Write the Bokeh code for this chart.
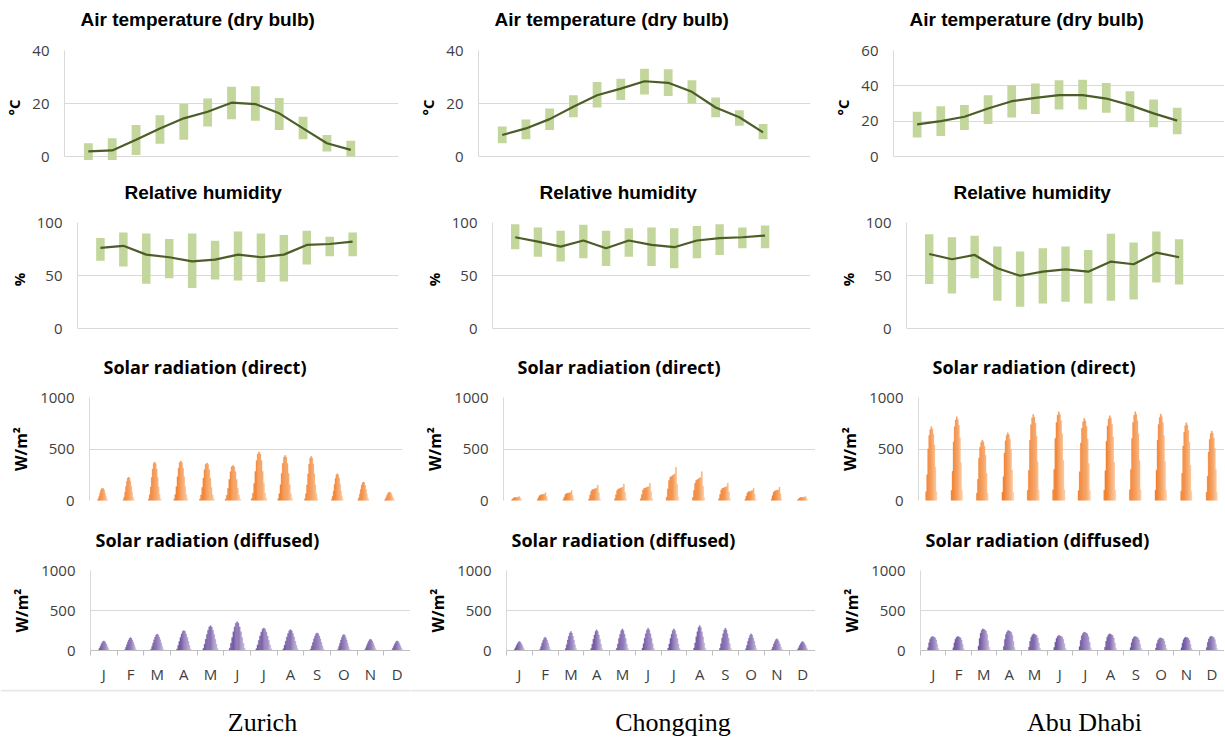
import numpy as np
from bokeh.plotting import figure
from bokeh.layouts import row, column
from bokeh.models import Range1d, FixedTicker, LinearAxis, Grid, Span, ColumnDataSource, Title
from bokeh.embed import file_html
from bokeh.resources import INLINE
from bokeh.core.properties import value

# ---------------- data ----------------
months = ["J", "F", "M", "A", "M", "J", "J", "A", "S", "O", "N", "D"]
cities = ["Zurich", "Chongqing", "Abu Dhabi"]

zurich_temp_max = [5.0, 6.9, 11.9, 15.6, 19.8, 21.9, 26.3, 26.5, 22.1, 15.0, 8.1, 5.9]
zurich_temp_min = [-1.3, -1.3, 0.6, 4.8, 6.3, 11.3, 14.1, 13.5, 10.0, 6.5, 1.9, 0.0]
zurich_temp_mean = [1.9, 2.3, 6.3, 10.6, 14.4, 16.9, 20.3, 19.8, 16.3, 10.6, 5.0, 2.5]
zurich_rh_max = [85.3, 90.6, 89.7, 84.4, 89.7, 82.8, 91.6, 89.7, 88.1, 92.2, 86.6, 90.6]
zurich_rh_min = [64.0, 58.4, 42.2, 47.5, 38.1, 46.3, 45.3, 43.8, 44.4, 60.3, 68.1, 68.1]
zurich_rh_mean = [76.0, 78.0, 69.7, 67.2, 63.4, 65.0, 69.7, 67.2, 69.7, 78.8, 79.7, 81.9]

chongqing_temp_max = [11.3, 14.0, 18.1, 23.1, 28.1, 29.3, 33.1, 32.9, 28.8, 22.3, 17.5, 12.3]
chongqing_temp_min = [5.0, 6.5, 10.0, 14.8, 18.5, 21.3, 23.4, 22.8, 20.0, 14.8, 11.6, 6.5]
chongqing_temp_mean = [8.1, 10.6, 14.1, 18.8, 23.1, 25.6, 28.4, 27.8, 24.4, 18.5, 14.8, 9.1]
chongqing_rh_max = [98.4, 95.3, 92.1, 97.8, 92.1, 94.6, 95.3, 94.6, 96.8, 98.4, 95.3, 97.2]
chongqing_rh_min = [74.8, 67.8, 63.1, 66.2, 59.0, 67.8, 59.0, 56.8, 66.2, 69.4, 75.7, 75.7]
chongqing_rh_mean = [86.1, 82.0, 77.3, 83.0, 75.7, 83.0, 78.9, 76.7, 83.0, 85.2, 86.1, 87.7]

abudhabi_temp_max = [25.3, 28.5, 29.1, 34.7, 40.3, 41.3, 43.1, 43.5, 41.6, 37.0, 32.3, 27.6]
abudhabi_temp_min = [10.7, 11.6, 15.0, 18.4, 22.1, 24.0, 26.6, 26.6, 24.8, 19.7, 16.5, 12.6]
abudhabi_temp_mean = [18.2, 20.0, 22.5, 27.2, 31.3, 33.2, 34.7, 34.7, 32.8, 29.1, 24.4, 20.3]
abudhabi_rh_max = [89.0, 86.1, 87.4, 77.3, 72.6, 75.7, 77.3, 74.1, 89.3, 81.1, 91.5, 84.2]
abudhabi_rh_min = [42.0, 33.1, 47.3, 26.2, 20.5, 23.7, 25.2, 23.7, 26.2, 27.4, 43.5, 41.6]
abudhabi_rh_mean = [70.3, 65.3, 69.4, 56.8, 49.8, 53.6, 55.8, 53.6, 63.1, 60.6, 71.6, 67.2]

# monthly peak of the average daily profile (W/m2)
zurich_direct_peak = [120, 227, 373, 383, 364, 341, 471, 438, 429, 260, 179, 81]
chongqing_direct_peak = [40, 77, 97, 150, 160, 168, 322, 280, 168, 120, 130, 40]
abudhabi_direct_peak = [716, 813, 587, 658, 835, 861, 797, 823, 861, 839, 755, 674]
zurich_diffuse_peak = [120, 160, 205, 250, 310, 360, 280, 260, 220, 200, 140, 120]
chongqing_diffuse_peak = [112, 167, 237, 258, 270, 279, 270, 312, 279, 208, 146, 112]
abudhabi_diffuse_peak = [175, 175, 270, 250, 208, 187, 229, 208, 175, 158, 167, 179]

# relative day length per month (width of the daily profile)
zurich_daylen = [0.75, 0.8, 0.9, 1.0, 1.05, 1.1, 1.1, 1.05, 0.95, 0.85, 0.8, 0.75]
chongqing_daylen = [0.9, 0.92, 0.95, 1.0, 1.02, 1.05, 1.05, 1.02, 1.0, 0.95, 0.92, 0.9]
abudhabi_daylen = [0.95, 0.97, 1.0, 1.0, 1.02, 1.05, 1.05, 1.02, 1.0, 0.98, 0.95, 0.95]

# normalised hourly shape of the daily profile (daylight hours)
zurich_direct_shape = [0.04, 0.15, 0.35, 0.6, 0.82, 0.96, 1.0, 0.96, 0.82, 0.6, 0.35, 0.15, 0.04]
chongqing_direct_shape = [0.1, 0.35, 0.6, 0.7, 0.72, 0.75, 0.78, 0.8, 1.0, 0.5, 0.1]
abudhabi_direct_shape = [0.12, 0.35, 0.7, 0.88, 0.96, 1.0, 0.97, 0.9, 0.75, 0.45, 0.12]
zurich_diffuse_shape = [0.08, 0.25, 0.45, 0.65, 0.82, 0.95, 1.0, 0.95, 0.82, 0.65, 0.45, 0.25, 0.08]
chongqing_diffuse_shape = [0.1, 0.3, 0.55, 0.75, 0.92, 1.0, 0.92, 0.75, 0.55, 0.3, 0.1]
abudhabi_diffuse_shape = [0.2, 0.55, 0.8, 0.93, 1.0, 0.98, 0.95, 0.9, 0.75, 0.45, 0.15]

temp_ticks = [[0, 20, 40], [0, 20, 40], [0, 20, 40, 60]]
rh_ticks = [0, 50, 100]
rad_ticks = [0, 500, 1000]

titles = ["Air temperature (dry bulb)", "Relative humidity",
          "Solar radiation (direct)", "Solar radiation (diffused)"]
ylabels = ["\u00b0C", "%", "W/m\u00b2", "W/m\u00b2"]

temp_data = [(zurich_temp_min, zurich_temp_max, zurich_temp_mean),
             (chongqing_temp_min, chongqing_temp_max, chongqing_temp_mean),
             (abudhabi_temp_min, abudhabi_temp_max, abudhabi_temp_mean)]
rh_data = [(zurich_rh_min, zurich_rh_max, zurich_rh_mean),
           (chongqing_rh_min, chongqing_rh_max, chongqing_rh_mean),
           (abudhabi_rh_min, abudhabi_rh_max, abudhabi_rh_mean)]
direct_data = [(zurich_direct_peak, zurich_direct_shape, zurich_daylen),
               (chongqing_direct_peak, chongqing_direct_shape, chongqing_daylen),
               (abudhabi_direct_peak, abudhabi_direct_shape, abudhabi_daylen)]
diffuse_data = [(zurich_diffuse_peak, zurich_diffuse_shape, zurich_daylen),
                (chongqing_diffuse_peak, chongqing_diffuse_shape, chongqing_daylen),
                (abudhabi_diffuse_peak, abudhabi_diffuse_shape, abudhabi_daylen)]

# ---------------- layout / style ----------------
COL_W = [410, 405, 409]
ROW_H = [175, 173, 172, 169, 50]
# (left, right, top, bottom) of the plotting frame inside each figure
FRAMES = [
    [(64, 398, 50, 164), (77, 398, 47, 161), (89, 402, 49, 152), (90, 410, 50, 130)],
    [(68, 400, 50, 164), (82, 400, 47, 161), (93, 405, 49, 152), (96, 405, 50, 130)],
    [(78, 409, 50, 164), (91, 409, 47, 161), (103, 409, 49, 152), (105, 409, 50, 130)],
]
ZERO_PAD = 8  # px below the zero line for temperature / humidity frames
TITLE_OFF = [16, 47, 14, 5]
TITLE_GAP = [8, 7, 6, 6]   # standoff of the blank spacer between title and frame
LABEL_STANDOFF = 5

GREEN = "#c3d69b"
OLIVE = "#4b5e28"
GRID = "#d9d9d9"
TICK_TXT = "#404040"
ORANGE = ("#f0802e", "#fcc79a")
PURPLE = ("#6c519e", "#c4b6de")


def mix(c1, c2, t):
    a = [int(c1[i:i + 2], 16) for i in (1, 3, 5)]
    b = [int(c2[i:i + 2], 16) for i in (1, 3, 5)]
    return "#%02x%02x%02x" % tuple(int(round(a[j] + (b[j] - a[j]) * t)) for j in range(3))


def base_fig(colw, rowh, frame, xr, yr):
    L, R, T, B = frame
    p = figure(width=colw, height=rowh, x_range=xr, y_range=yr, title=None,
               x_axis_type=None, y_axis_type=None, output_backend="svg",
               toolbar_location=None,
               min_border_left=L, min_border_right=colw - R,
               min_border_top=T, min_border_bottom=rowh - B)
    p.outline_line_color = None
    p.background_fill_color = "white"
    p.border_fill_color = "white"
    return p


def add_title(p, text, r):
    # blank spacer next to the frame, then the real title above it
    spacer = Title(text=" ", text_font_size="8px", text_color="#ffffff",
                   standoff=TITLE_GAP[r])
    p.add_layout(spacer, "above")
    t = Title(text=text, align="left", vertical_align="top", offset=TITLE_OFF[r], standoff=0)
    if r < 2:
        t.text_font = "Liberation Sans"
        t.text_font_size = "19px"
    else:
        t.text_font = "Open Sans"
        t.text_font_size = "18px"
    t.text_font_style = "bold"
    t.text_color = "#000000"
    p.add_layout(t, "above")


def add_yaxis(p, ticks, label, r):
    tk = FixedTicker(ticks=ticks)
    ax = LinearAxis(ticker=tk, bounds=(ticks[0], ticks[-1]), axis_label=label)
    ax.major_tick_out = 0
    ax.major_tick_in = 0
    ax.minor_tick_out = 0
    ax.minor_tick_in = 0
    ax.axis_line_color = GRID
    ax.major_label_text_font = "Open Sans"
    ax.major_label_text_font_size = "15px"
    ax.major_label_text_color = TICK_TXT
    ax.major_label_standoff = 15
    ax.axis_label_text_font = "Open Sans"
    ax.axis_label_text_font_size = "15px" if r < 2 else "16px"
    ax.axis_label_text_font_style = "bold"
    ax.axis_label_text_color = "#000000"
    ax.axis_label_standoff = LABEL_STANDOFF
    p.add_layout(ax, "left")
    p.add_layout(Grid(dimension=1, ticker=tk, grid_line_color=GRID, grid_line_width=1))


def range_plot(c, r, data, ticks):
    colw, rowh = COL_W[c], ROW_H[r]
    L, R, T, B = FRAMES[c][r]
    lo, hi, mean = data
    top = ticks[-1]
    units_per_px = top / (B - ZERO_PAD - T)
    yr = Range1d(-ZERO_PAD * units_per_px, top)
    xr = Range1d(0, len(months) + 2)
    p = base_fig(colw, rowh, FRAMES[c][r], xr, yr)
    add_title(p, titles[r], r)
    add_yaxis(p, ticks, ylabels[r], r)
    x = [i + 1 for i in range(len(months))]
    src = ColumnDataSource(dict(x=x, lo=lo, hi=hi, mean=mean))
    p.vbar(x="x", bottom="lo", top="hi", width=0.37, fill_color=GREEN,
           line_color=None, source=src)
    p.line(x="x", y="mean", line_color=OLIVE, line_width=2.2, source=src)
    return p


def radiation_plot(c, r, data, colors, bottom_axis):
    colw, rowh = COL_W[c], ROW_H[r]
    peaks, shape, daylen = data
    xr = Range1d(0, len(months))
    yr = Range1d(0, rad_ticks[-1])
    p = base_fig(colw, rowh, FRAMES[c][r], xr, yr)
    add_title(p, titles[r], r)
    add_yaxis(p, rad_ticks, ylabels[r], r)
    n = len(shape)
    ctr = (n - 1) / 2
    xs, tops, ws, cols = [], [], [], []
    for i, pk in enumerate(peaks):
        step = daylen[i] / 24.0
        for k, f in enumerate(shape):
            xs.append(i + 0.5 + (k - ctr) * step)
            tops.append(pk * f)
            ws.append(step)
            cols.append(mix(colors[0], colors[1], (k / (n - 1)) ** 1.6))
    src = ColumnDataSource(dict(x=xs, top=tops, w=ws, c=cols))
    p.vbar(x="x", bottom=0, top="top", width="w", fill_color="c", line_color="c",
           line_width=0.4, source=src)
    if bottom_axis:
        centers = [i + 0.5 for i in range(len(months))]
        bounds = [float(i) for i in range(len(months) + 1)]
        ax = LinearAxis(ticker=FixedTicker(ticks=centers, minor_ticks=bounds))
        ax.major_label_overrides = {centers[i]: m for i, m in enumerate(months)}
        ax.major_tick_out = 0
        ax.major_tick_in = 0
        ax.minor_tick_out = 5
        ax.minor_tick_in = 0
        ax.minor_tick_line_color = "#bfbfbf"
        ax.axis_line_color = "#bfbfbf"
        ax.major_label_text_font = "Open Sans"
        ax.major_label_text_font_size = "15px"
        ax.major_label_text_color = TICK_TXT
        ax.major_label_standoff = 8
        p.add_layout(ax, "below")
    return p


def city_plot(c):
    colw, rowh = COL_W[c], ROW_H[4]
    L, R, T, B = FRAMES[c][3]
    ppu = (R - L) / len(months)
    xr = Range1d(-L / ppu, len(months) + (colw - R) / ppu)
    p = figure(width=colw, height=rowh, x_range=xr, y_range=Range1d(0, 1), title=None,
               x_axis_type=None, y_axis_type=None, output_backend="svg",
               toolbar_location=None, min_border=0)
    p.outline_line_color = None
    p.add_layout(Span(location=0.98, dimension="width", line_color="#e8e8e8", line_width=2))
    p.text(x=[len(months) / 2], y=[0.34], text=[cities[c]], text_align="center",
           text_baseline="alphabetic", x_offset=12, text_font=value("Liberation Serif"),
           text_font_size="26px", text_color="#000000")
    return p


rows = []
for r in range(5):
    figs = []
    for c in range(3):
        if r == 0:
            figs.append(range_plot(c, 0, temp_data[c], temp_ticks[c]))
        elif r == 1:
            figs.append(range_plot(c, 1, rh_data[c], rh_ticks))
        elif r == 2:
            figs.append(radiation_plot(c, 2, direct_data[c], ORANGE, False))
        elif r == 3:
            figs.append(radiation_plot(c, 3, diffuse_data[c], PURPLE, True))
        else:
            figs.append(city_plot(c))
    rows.append(row(*figs, spacing=0))

layout = column(*rows, spacing=0)

open("out.html", "w").write(file_html(layout, INLINE))
